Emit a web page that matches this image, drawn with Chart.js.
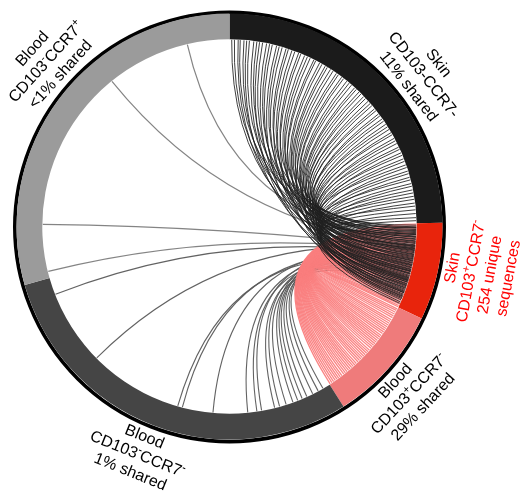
<!DOCTYPE html>
<html>
<head>
<meta charset="utf-8">
<script src="https://cdn.jsdelivr.net/npm/chart.js@4.4.1/dist/chart.umd.min.js"></script>
<style>
  html, body { margin: 0; padding: 0; background: #fff; }
  #wrap { width: 520px; height: 501px; position: relative; }
</style>
</head>
<body>
<div id="wrap"><canvas id="chord"></canvas></div>
<script>
// Compartments around the circle, clockwise from 12 o'clock
const compartments = ['Skin CD103-CCR7-', 'Skin CD103+CCR7-', 'Blood CD103+CCR7-', 'Blood CD103-CCR7-', 'Blood CD103-CCR7+'];
// Unique sequences in each compartment (arc length)
const sequenceCounts = [850, 254, 306, 1016, 1012];
// Text printed next to each arc
const arcLabels = [
  ['Skin', 'CD103-CCR7-', '11% shared'],
  ['Skin', 'CD103⁺CCR7⁻', '254 unique', 'sequences'],
  ['Blood', 'CD103⁺CCR7⁻', '29% shared'],
  ['Blood', 'CD103⁻CCR7⁻', '1% shared'],
  ['Blood', 'CD103⁻CCR7⁺', '<1% shared']
];

// Shared sequences: rank inside the Skin CD103+CCR7- arc (From) and inside the partner arc (To)
const skinNegFrom = [140, 76, 168, 27, 115, 203, 53, 154, 10, 220, 90, 181, 41, 129, 230, 69, 147, 18, 197, 104,
  164, 59, 208, 121, 33, 175, 83, 226, 137, 47, 189, 98, 14, 160, 72, 215, 111, 24, 171, 131,
  63, 205, 92, 37, 150, 236, 78, 186, 5, 123, 166, 56, 212, 101, 30, 143, 194, 67, 117, 223,
  45, 157, 86, 179, 21, 135, 200, 51, 109, 162, 12, 218, 80, 148, 184, 39, 125, 241, 95, 174,
  65, 141, 192, 32, 106, 207, 74, 169];
const skinNegTo = [6, 14, 25, 31, 42, 50, 58, 71, 80, 88, 97, 109, 118, 126, 139, 147, 156, 168, 175, 186,
  195, 207, 214, 226, 235, 244, 256, 262, 275, 283, 294, 301, 312, 321, 333, 340, 352, 359, 371, 380,
  389, 401, 408, 419, 427, 438, 446, 457, 466, 474, 486, 493, 505, 512, 523, 531, 542, 551, 560, 571,
  578, 590, 598, 607, 619, 626, 637, 645, 656, 664, 675, 683, 694, 702, 713, 721, 732, 740, 751, 760,
  770, 779, 790, 799, 810, 821, 833, 842];

const bloodPosFrom = [2, 7, 12, 17, 22, 28, 33, 38, 43, 48, 53, 58, 63, 68, 74, 79, 84, 89, 94, 99,
  104, 109, 115, 120, 125, 130, 135, 140, 145, 150, 156, 161, 166, 171, 176, 181, 186, 191, 197, 202,
  207, 212, 217, 222, 227, 232, 238, 243, 248, 252];
const bloodPosTo = [303, 297, 291, 285, 279, 273, 267, 261, 254, 248, 242, 236, 230, 224, 218, 212, 206, 199, 193, 187,
  181, 175, 169, 163, 157, 151, 144, 138, 132, 126, 120, 114, 108, 102, 96, 89, 83, 77, 71, 65,
  59, 53, 47, 41, 34, 28, 22, 16, 10, 5];

const bloodDnFrom = [150, 132, 171, 118, 160, 141, 109, 182, 126, 155, 98, 137, 113, 88, 104, 121, 79, 93];
const bloodDnTo = [22, 38, 56, 75, 90, 104, 119, 140, 160, 175, 214, 228, 255, 357, 448, 462, 741, 965];

const bloodCmFrom = [85, 72, 66, 58];
const bloodCmTo = [19, 158, 639, 887];

// ---- styling ----
const ARC_COLORS = ['#1b1b1b', '#e8240c', '#ef7b7b', '#454545', '#9b9b9b'];
const LABEL_COLORS = ['#000', '#ff0000', '#000', '#000', '#000'];
const LABEL_CLOCK_DEG = [52, 100.5, 133, 202, 312];   // label direction, degrees clockwise from 12 o'clock
const LABEL_BASE_R = 227, LABEL_LINE = 19;
const FONT = '"Liberation Sans", Arial, Helvetica, sans-serif';
const SOURCE = 1; // Skin CD103+CCR7-

const linkGroups = [
  { from: bloodCmFrom,  to: bloodCmTo,  target: 4, color: 'rgba(125,125,125,0.95)', width: 1.2 },
  { from: bloodDnFrom,  to: bloodDnTo,  target: 3, color: 'rgba(90,90,90,0.95)',    width: 1.1 },
  { from: bloodPosFrom, to: bloodPosTo, target: 2, color: 'rgba(250,125,125,0.95)', width: 1.3 },
  { from: skinNegFrom,  to: skinNegTo,  target: 0, color: 'rgba(30,30,30,0.85)',    width: 1.0 }
];

function arcGeom(chart, i) {
  return chart.getDatasetMeta(0).data[i].getProps(['x', 'y', 'startAngle', 'endAngle', 'innerRadius', 'outerRadius'], true);
}
function anchor(chart, seg, rank) {
  const g = arcGeom(chart, seg);
  const a = g.startAngle + (rank + 0.5) / sequenceCounts[seg] * (g.endAngle - g.startAngle);
  const r = g.innerRadius - 0.5;
  return { x: g.x + r * Math.cos(a), y: g.y + r * Math.sin(a) };
}

// text with superscript + / - signs
function drawRich(ctx, text, color) {
  const runs = [];
  for (const ch of text) {
    const sup = ch === '⁺' || ch === '⁻';
    const t = ch === '⁺' ? '+' : ch === '⁻' ? '-' : ch;
    const last = runs[runs.length - 1];
    if (last && last.sup === sup) last.t += t; else runs.push({ t, sup });
  }
  const big = '16px ' + FONT, small = '11px ' + FONT;
  let total = 0;
  runs.forEach(r => { ctx.font = r.sup ? small : big; r.w = ctx.measureText(r.t).width; total += r.w; });
  let x = -total / 2;
  ctx.fillStyle = color;
  ctx.textAlign = 'left';
  ctx.textBaseline = 'middle';
  runs.forEach(r => {
    ctx.font = r.sup ? small : big;
    ctx.fillText(r.t, x, r.sup ? -5 : 0);
    x += r.w;
  });
}

const chordPlugin = {
  id: 'chordLinks',
  beforeDatasetsDraw(chart) {
    const g = arcGeom(chart, 0);
    const ctx = chart.ctx;
    ctx.save();
    ctx.beginPath();
    ctx.arc(g.x, g.y + 0.4, g.outerRadius + 1.7, 0, Math.PI * 2);
    ctx.lineWidth = 3.6;
    ctx.strokeStyle = '#000';
    ctx.stroke();
    ctx.restore();
  },
  afterDatasetsDraw(chart) {
    const ctx = chart.ctx;
    const c = arcGeom(chart, 0);
    ctx.save();
    ctx.lineCap = 'butt';
    linkGroups.forEach(gr => {
      ctx.strokeStyle = gr.color;
      ctx.lineWidth = gr.width;
      const n = Math.min(gr.from.length, gr.to.length);
      for (let k = 0; k < n; k++) {
        const p1 = anchor(chart, SOURCE, gr.from[k]);
        const p2 = anchor(chart, gr.target, gr.to[k]);
        ctx.beginPath();
        ctx.moveTo(p1.x, p1.y);
        ctx.quadraticCurveTo(c.x, c.y, p2.x, p2.y);
        ctx.stroke();
      }
    });
    ctx.restore();

    // arc labels, set tangentially outside the ring
    arcLabels.forEach((lines, i) => {
      const th = LABEL_CLOCK_DEG[i] * Math.PI / 180;
      const deg = ((LABEL_CLOCK_DEG[i] % 360) + 360) % 360;
      const top = deg < 90 || deg > 270;
      const rot = top ? th : th - Math.PI;
      const n = lines.length;
      lines.forEach((line, j) => {
        const r = LABEL_BASE_R + (top ? (n - 1 - j) : j) * LABEL_LINE;
        const px = c.x + r * Math.sin(th), py = c.y - r * Math.cos(th);
        ctx.save();
        ctx.translate(px, py);
        ctx.rotate(rot);
        drawRich(ctx, line, LABEL_COLORS[i]);
        ctx.restore();
      });
    });
  }
};

new Chart(document.getElementById('chord'), {
  type: 'doughnut',
  data: {
    labels: compartments,
    datasets: [{
      data: sequenceCounts,
      backgroundColor: ARC_COLORS,
      borderWidth: 0,
      hoverOffset: 0
    }]
  },
  options: {
    responsive: true,
    maintainAspectRatio: false,
    animation: false,
    events: [],
    cutout: '87.9%',
    layout: { padding: { left: 16.5, right: 77.5, top: 13.5, bottom: 61.5 } },
    plugins: { legend: { display: false }, tooltip: { enabled: false } }
  },
  plugins: [chordPlugin]
});
</script>
</body>
</html>
